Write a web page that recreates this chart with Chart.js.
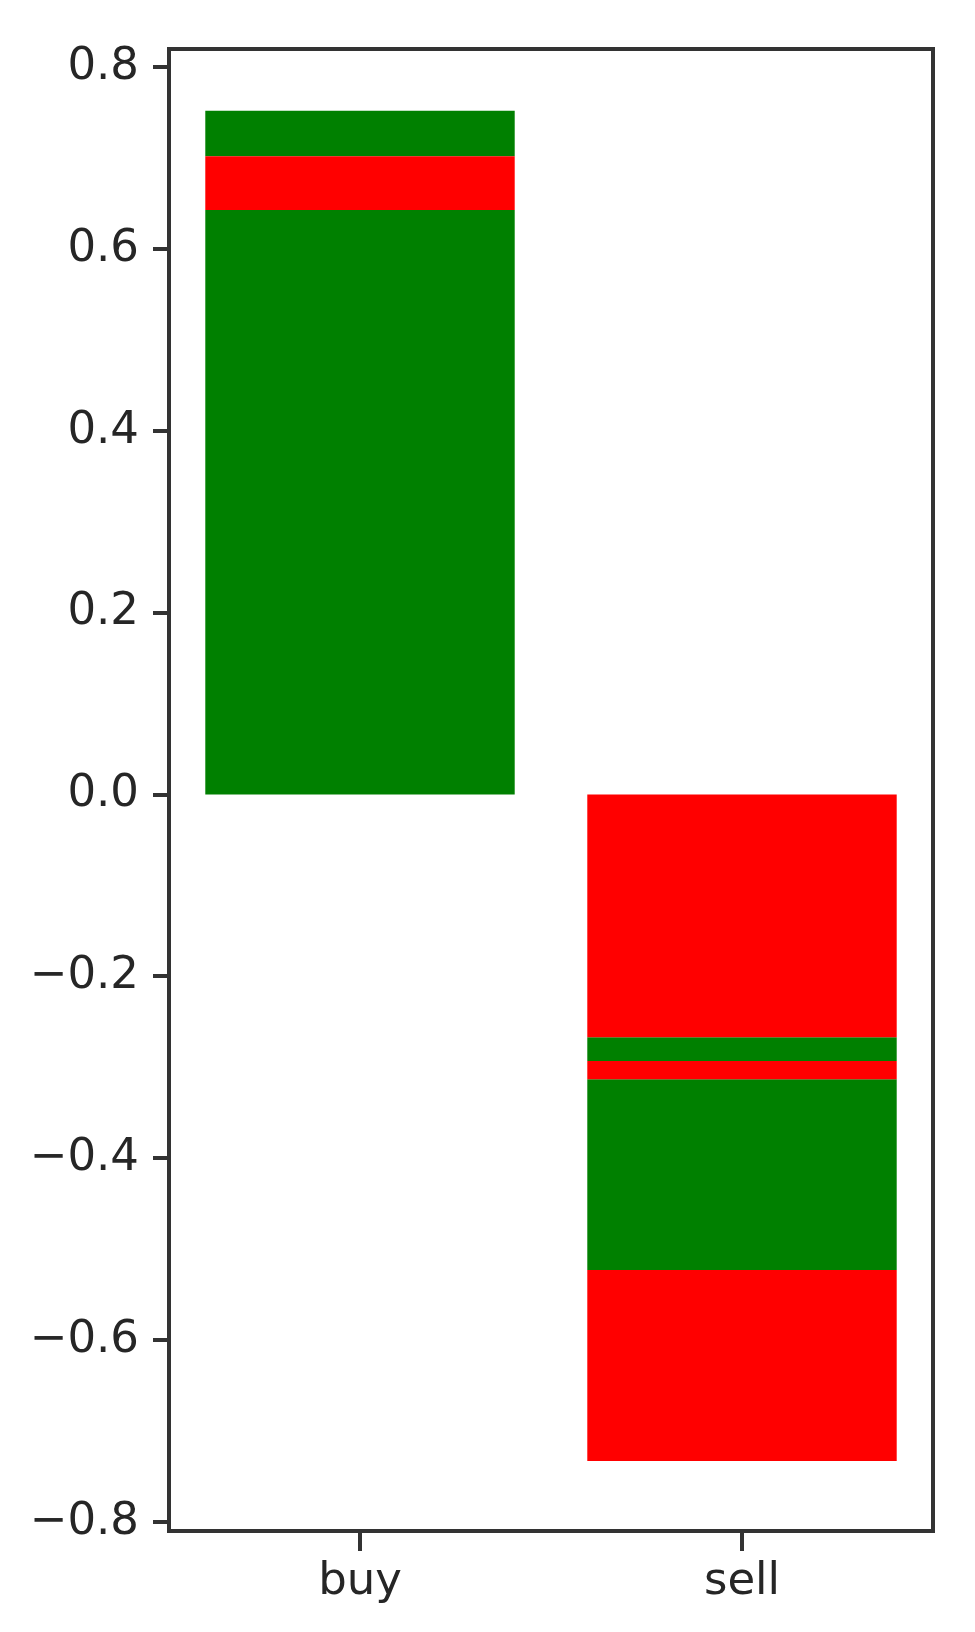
<!DOCTYPE html>
<html>
<head>
<meta charset="utf-8">
<script src="https://cdn.jsdelivr.net/npm/chart.js@4"></script>
<style>
  body { margin: 0; background: #fff; }
</style>
</head>
<body>
<canvas id="chart" width="975" height="1632"></canvas>
<script>
const categories = ['buy', 'sell'];
const yTickValues = [-0.8, -0.6, -0.4, -0.2, 0.0, 0.2, 0.4, 0.6, 0.8];

// stacked segments, bottom to top (positive) / top to bottom (negative)
const seg1 = [0.643, -0.267];
const seg2 = [0.059, -0.026];
const seg3 = [0.050, -0.020];
const seg4 = [null, -0.210];
const seg5 = [null, -0.210];

const green = '#008000';
const red = '#ff0000';
const seg1Colors = [green, red];
const seg2Colors = [red, green];
const seg3Colors = [green, red];
const seg4Colors = [green, green];
const seg5Colors = [red, red];

const axisColor = '#333333';

function makeSet(data, colors) {
  return { data: data, backgroundColor: colors, borderWidth: 0, barPercentage: 0.81, categoryPercentage: 1.0 };
}

// full box around the plot area, like the mpl spines
const frame = {
  id: 'frame',
  afterDraw(chart) {
    const a = chart.chartArea;
    const c = chart.ctx;
    c.save();
    c.strokeStyle = axisColor;
    c.lineWidth = 4;
    c.strokeRect(a.left, a.top, a.right - a.left, a.bottom - a.top);
    c.restore();
  }
};

new Chart(document.getElementById('chart'), {
  type: 'bar',
  data: {
    labels: categories,
    datasets: [
      makeSet(seg1, seg1Colors),
      makeSet(seg2, seg2Colors),
      makeSet(seg3, seg3Colors),
      makeSet(seg4, seg4Colors),
      makeSet(seg5, seg5Colors)
    ]
  },
  plugins: [frame],
  options: {
    responsive: false,
    animation: false,
    layout: { padding: { top: 49, right: 42, left: 0, bottom: 0 } },
    plugins: {
      legend: { display: false },
      tooltip: { enabled: false }
    },
    scales: {
      x: {
        stacked: true,
        offset: true,
        border: { display: false },
        grid: { display: true, offset: false, drawOnChartArea: false, drawTicks: true, tickLength: 20, lineWidth: 0, tickWidth: 4, tickColor: axisColor },
        ticks: { font: { family: 'DejaVu Sans', size: 45 }, color: '#262626', padding: 4 },
        afterFit: s => { s.height = 101; }
      },
      y: {
        stacked: true,
        min: -0.81,
        max: 0.82,
        border: { display: false },
        grid: { display: true, drawOnChartArea: false, drawTicks: true, tickLength: 16, lineWidth: 0, tickWidth: 4, tickColor: axisColor },
        afterBuildTicks: s => { s.ticks = yTickValues.map(v => ({ value: v })); },
        ticks: {
          font: { family: 'DejaVu Sans', size: 45 },
          color: '#262626',
          padding: 14,
          callback: v => (v < 0 ? '\u2212' : '') + Math.abs(v).toFixed(1)
        },
        afterFit: s => { s.width = 169; }
      }
    }
  }
});
</script>
</body>
</html>
